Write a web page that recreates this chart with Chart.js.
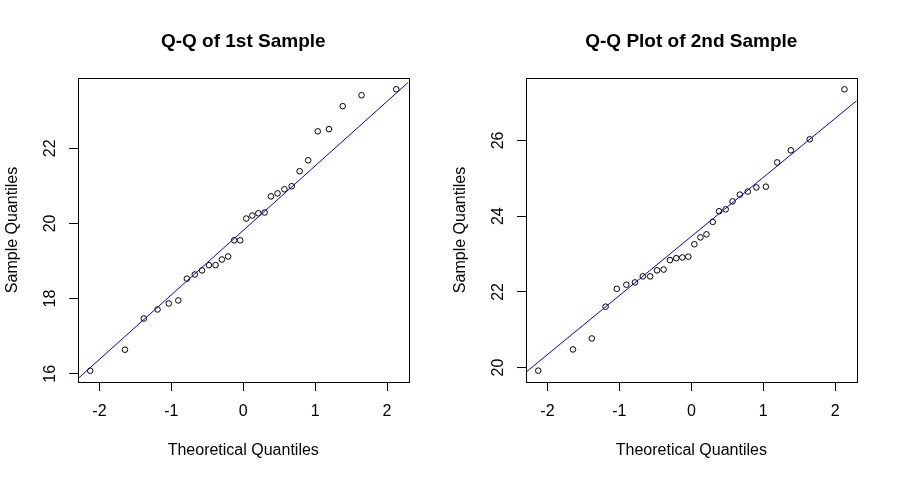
<!DOCTYPE html>
<html>
<head>
<meta charset="utf-8">
<script src="https://cdn.jsdelivr.net/npm/chart.js@4"></script>
<style>
  html, body { margin: 0; padding: 0; background: #ffffff; }
  #wrap { position: relative; width: 897px; height: 480px; overflow: hidden; }
  canvas { position: absolute; top: 0; }
  #qq1 { left: 0; }
  #qq2 { left: 448px; }
</style>
</head>
<body>
<div id="wrap">
  <canvas id="qq1" width="448" height="480"></canvas>
  <canvas id="qq2" width="449" height="480"></canvas>
</div>
<script>
// theoretical normal quantiles, n = 30 (same for both panels)
const theoQuant = [-2.128, -1.645, -1.383, -1.192, -1.036, -0.903, -0.784, -0.674, -0.573, -0.477,
                   -0.385, -0.297, -0.210, -0.126, -0.042, 0.042, 0.126, 0.210, 0.297, 0.385,
                   0.477, 0.573, 0.674, 0.784, 0.903, 1.036, 1.192, 1.383, 1.645, 2.128];

// sorted sample values
const sample1 = [16.08, 16.64, 17.47, 17.71, 17.87, 17.95, 18.53, 18.64, 18.75, 18.89,
                 18.89, 19.04, 19.12, 19.55, 19.55, 20.13, 20.21, 20.27, 20.29, 20.72,
                 20.80, 20.91, 20.99, 21.39, 21.68, 22.45, 22.51, 23.12, 23.41, 23.57];
const sample2 = [19.92, 20.48, 20.77, 21.61, 22.08, 22.19, 22.25, 22.41, 22.41, 22.57,
                 22.59, 22.84, 22.89, 22.91, 22.93, 23.26, 23.44, 23.52, 23.85, 24.13,
                 24.18, 24.39, 24.57, 24.65, 24.76, 24.78, 25.42, 25.74, 26.03, 27.35];

// qqline end values at the left / right edge of each plot
const qqLine1 = [15.87, 23.76];
const qqLine2 = [19.88, 27.05];

const xRange = [-2.298, 2.298];
const yRange1 = [15.78, 23.87];
const yRange2 = [19.62, 27.65];

const xTicks = [-2, -1, 0, 1, 2];
const yTicks1 = [16, 18, 20, 22];
const yTicks2 = [20, 22, 24, 26];

const FONT = "'Liberation Sans', Arial, sans-serif";

// full box round the plot region, like R's box()
const boxPlugin = {
  id: 'rbox',
  afterDraw(chart) {
    const a = chart.chartArea, ctx = chart.ctx;
    ctx.save();
    ctx.strokeStyle = '#000';
    ctx.lineWidth = 1;
    ctx.strokeRect(Math.round(a.left) + 0.5, Math.round(a.top) + 0.5,
                   Math.round(a.right - a.left), Math.round(a.bottom - a.top));
    ctx.restore();
  }
};

function makeQQ(id, titleText, sample, lineY, yRange, yTicks, padRight) {
  const pts = theoQuant.map((x, i) => ({ x: x, y: sample[i] }));
  return new Chart(document.getElementById(id), {
    type: 'scatter',
    data: {
      datasets: [
        { data: pts, showLine: false, pointStyle: 'circle', pointRadius: 2.8, pointBorderWidth: 1,
          borderColor: '#000', backgroundColor: 'rgba(0,0,0,0)', order: 1 },
        { data: [{ x: xRange[0], y: lineY[0] }, { x: xRange[1], y: lineY[1] }], showLine: true,
          borderColor: '#0000ff', borderWidth: 1, pointRadius: 0, order: 0 }
      ]
    },
    options: {
      responsive: false,
      animation: false,
      events: [],
      layout: { padding: { left: 0, right: padRight, top: 0, bottom: 0 } },
      plugins: {
        legend: { display: false },
        tooltip: { enabled: false },
        title: { display: true, fullSize: false, text: titleText, color: '#000',
                 font: { family: FONT, size: 19, weight: 'bold', lineHeight: 1.2 },
                 padding: { top: 30, bottom: 25.2 } }
      },
      scales: {
        x: {
          type: 'linear', min: xRange[0], max: xRange[1],
          afterBuildTicks: s => { s.ticks = xTicks.map(v => ({ value: v })); },
          afterFit: s => { s.height = 98; },
          border: { display: false },
          grid: { drawOnChartArea: false, drawTicks: true, tickLength: 9, tickColor: '#000', tickWidth: 1 },
          ticks: { color: '#000', padding: 11, maxRotation: 0, font: { family: FONT, size: 16, lineHeight: 1.2 },
                   callback: v => String(v) },
          title: { display: true, text: 'Theoretical Quantiles', color: '#000',
                   font: { family: FONT, size: 16, lineHeight: 1.2 }, padding: { top: 0, bottom: 20 } }
        },
        y: {
          type: 'linear', min: yRange[0], max: yRange[1],
          afterBuildTicks: s => { s.ticks = yTicks.map(v => ({ value: v })); },
          afterFit: s => { s.width = 78; },
          border: { display: false },
          grid: { drawOnChartArea: false, drawTicks: true, tickLength: 9, tickColor: '#000', tickWidth: 1 },
          ticks: { color: '#000', padding: 10, minRotation: 90, maxRotation: 90, crossAlign: 'center',
                   font: { family: FONT, size: 16, lineHeight: 1.2 }, callback: v => String(v) },
          title: { display: true, text: 'Sample Quantiles', color: '#000',
                   font: { family: FONT, size: 16, lineHeight: 1.2 }, padding: { top: 3, bottom: 0 } }
        }
      }
    },
    plugins: [boxPlugin]
  });
}

makeQQ('qq1', 'Q-Q of 1st Sample', sample1, qqLine1, yRange1, yTicks1, 39.5);
makeQQ('qq2', 'Q-Q Plot of 2nd Sample', sample2, qqLine2, yRange2, yTicks2, 40.3);
</script>
</body>
</html>
